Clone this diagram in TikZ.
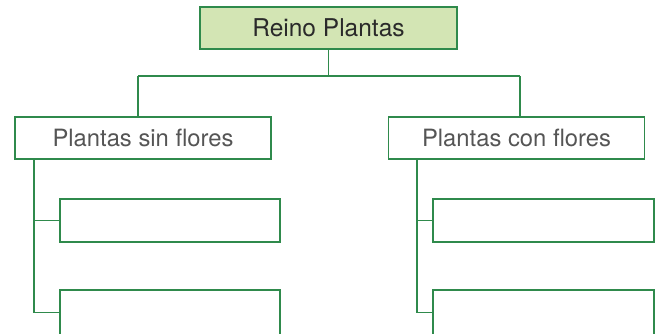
\documentclass[tikz,border=0pt]{standalone}
\usepackage{fontspec}
\setmainfont{TeX Gyre Heros}
\definecolor{boxgreen}{HTML}{2F8A4C}
\definecolor{fillgreen}{HTML}{D3E5B4}
\definecolor{toptext}{HTML}{2A2A2A}
\definecolor{subtext}{HTML}{555555}
\begin{document}
\begin{tikzpicture}[x=1pt,y=-1pt,
  box/.style={draw=boxgreen,line width=1.2pt,rectangle,inner sep=0pt,minimum height=42pt},
  topbox/.style={box,fill=fillgreen,text=toptext,minimum width=257pt,font=\fontsize{24.5}{28}\selectfont},
  midbox/.style={box,fill=white,text=subtext,minimum width=256pt,font=\fontsize{23.8}{28}\selectfont},
  smallbox/.style={box,fill=white,minimum width=220pt,minimum height=43pt},
  conn/.style={draw=boxgreen,line width=1.2pt}]
\useasboundingbox (0,0) rectangle (660,333);
\node[topbox] (top) at (328.5,28) {Reino Plantas};
\node[midbox] (left) at (143,138) {Plantas sin flores};
\node[midbox] (right) at (516.5,138) {Plantas con flores};
\node[smallbox] (l1) at (170,220.5) {};
\node[smallbox,minimum height=60pt] (l2) at (170,320) {};
\node[smallbox,minimum width=221pt] (r1) at (543.5,220.5) {};
\node[smallbox,minimum width=221pt,minimum height=60pt] (r2) at (543.5,320) {};
\coordinate (bl) at (138,76);
\coordinate (br) at (520,76);
\coordinate (tl) at (34,312.5);
\coordinate (tr) at (417,312.5);
\draw[conn] (top.south) -- (top.south |- bl);
\draw[conn] (bl) -- (br);
\draw[conn] (bl) -- (bl |- left.north);
\draw[conn] (br) -- (br |- right.north);
\draw[conn] (tl |- left.south) -- (tl) -- (tl -| l2.west);
\draw[conn] (tl |- l1.west) -- (l1.west);
\draw[conn] (tr |- right.south) -- (tr) -- (tr -| r2.west);
\draw[conn] (tr |- r1.west) -- (r1.west);
\end{tikzpicture}
\end{document}
